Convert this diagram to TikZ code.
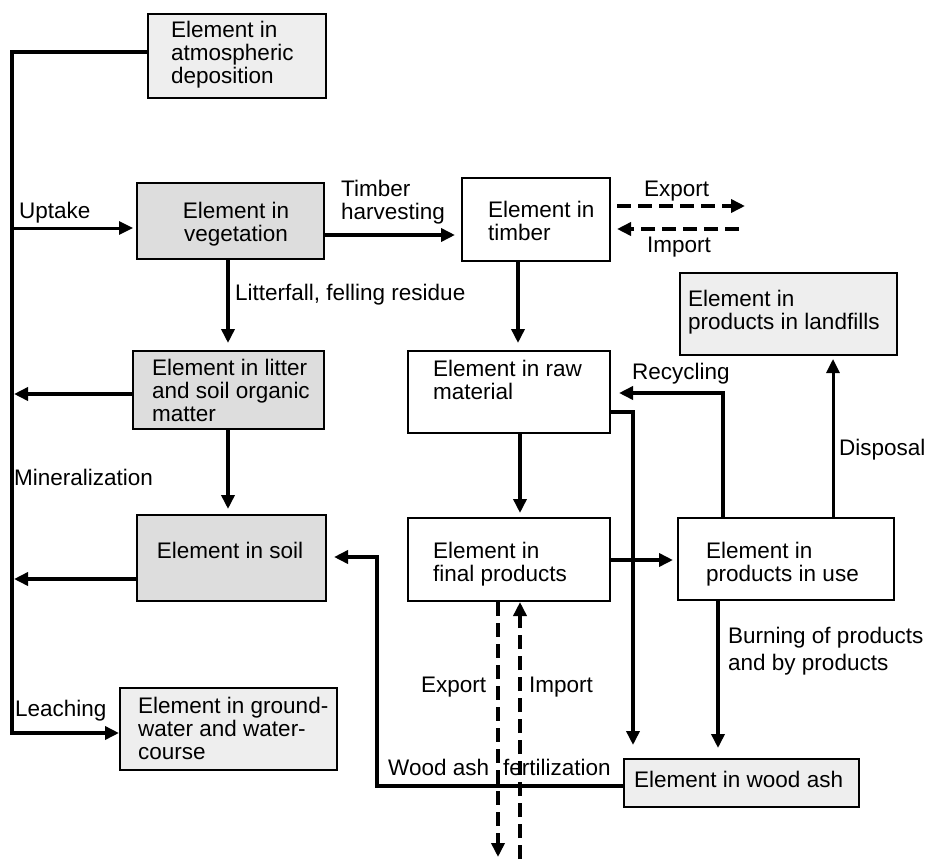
\documentclass[tikz,border=0pt]{standalone}
\usepackage{fontspec}
\setmainfont{Liberation Sans}
\usetikzlibrary{arrows.meta}
\definecolor{boxlight}{HTML}{EEEEEE}
\definecolor{boxdark}{HTML}{DDDDDD}

\begin{document}
\begin{tikzpicture}[x=1pt,y=-1pt,
  font=\fontsize{22.5}{22.8}\selectfont,
  box/.style={draw, line width=2pt, inner sep=0pt, anchor=north west},
  lightbox/.style={box, fill=boxlight},
  darkbox/.style={box, fill=boxdark},
  plainbox/.style={box, fill=white},
  txt/.style={inner sep=0pt, anchor=north west, align=left},
  ctxt/.style={inner sep=0pt, anchor=north, align=center},
  tip/.style={-{Triangle[length=14pt,width=13pt]}},
  flow/.style={line width=4pt, line join=miter, tip},
  flowthin/.style={line width=3pt, tip},
  dflow/.style={line width=4pt, dash pattern=on 14pt off 7pt, tip},
]
\fill[white] (0,0) rectangle (928,859);
\useasboundingbox (0,0) rectangle (928,859);

% ---- compartments ----
\node[lightbox, minimum width=178pt, minimum height=84pt] (atm)  at (147,13)  {};
\node[darkbox,  minimum width=187pt, minimum height=76pt] (veg)  at (136,182) {};
\node[darkbox,  minimum width=191pt, minimum height=78pt] (lit)  at (132,350) {};
\node[darkbox,  minimum width=189pt, minimum height=86pt] (soil) at (136,514) {};
\node[lightbox, minimum width=217pt, minimum height=82pt] (gw)   at (119,687) {};
\node[plainbox, minimum width=148pt, minimum height=83pt] (tim)  at (461,177) {};
\node[plainbox, minimum width=202pt, minimum height=82pt] (raw)  at (407,350) {};
\node[plainbox, minimum width=202pt, minimum height=83pt] (fin)  at (407,517) {};
\node[plainbox, minimum width=216pt, minimum height=82pt] (use)  at (677,517) {};
\node[lightbox, minimum width=217pt, minimum height=82pt] (land) at (679,272) {};
\node[lightbox, minimum width=235pt, minimum height=48pt] (ash)  at (623,758) {};

% ---- compartment texts ----
\node[txt]  (atm-t)  at (171,21)  {Element in\\atmospheric\\deposition};
\node[ctxt] (veg-t)  at (236,202) {Element in\\vegetation};
\node[txt]  (lit-t)  at (152,359) {Element in litter\\and soil organic\\matter};
\node[ctxt] (soil-t) at (230,542) {Element in soil};
\node[txt]  (gw-t)   at (138,697) {Element in ground-\\water and water-\\course};
\node[txt]  (tim-t)  at (488,201) {Element in\\timber};
\node[txt]  (raw-t)  at (433,360) {Element in raw\\material};
\node[txt]  (fin-t)  at (433,542) {Element in\\final products};
\node[txt]  (use-t)  at (706,542) {Element in\\products in use};
\node[txt]  (land-t) at (688,290) {Element in\\products in landfills};
\node[txt]  (ash-t)  at (634,771) {Element in wood ash};

% ---- junction points and free ends ----
\coordinate (tt) at (12,52);
\coordinate (tb) at (12,733);
\coordinate (up) at (12,228);
\coordinate (lt) at (14,394);
\coordinate (st) at (14,579);
\coordinate (lx) at (228,0);
\coordinate (hy) at (0,235);
\coordinate (tx) at (518,0);
\coordinate (rx) at (520,0);
\coordinate (fy) at (0,560);
\coordinate (rec) at (723,393);
\coordinate (rash) at (633,412);
\coordinate (disp) at (833,0);
\coordinate (burn) at (718,0);
\coordinate (ex) at (0,206);
\coordinate (exend) at (745,206);
\coordinate (im) at (0,229);
\coordinate (imstart) at (739,229);
\coordinate (exd) at (498,857);
\coordinate (imd) at (520,859);
\coordinate (wa) at (377,786);
\coordinate (sy) at (0,557);

% ---- flows ----
\draw[flow] (atm.west |- tt) -- (tt) -- (tb) -- (tb -| gw.west);
\draw[flowthin, shorten >=3pt] (up) -- (veg.west |- up);
\draw[flow] (lit.west |- lt) -- (lt);
\draw[flow] (soil.west |- st) -- (st);
\draw[flow, shorten >=7pt] (veg.south -| lx) -- (lit.north -| lx);
\draw[flow, shorten >=5pt] (lit.south -| lx) -- (soil.north -| lx);
\draw[flow, shorten >=6pt] (veg.east |- hy) -- (tim.west |- hy);
\draw[flow, shorten >=7pt] (tim.south -| tx) -- (raw.north -| tx);
\draw[flow, shorten >=4pt] (raw.south -| rx) -- (fin.north -| rx);
\draw[flow, shorten >=4pt] (fin.east |- fy) -- (use.west |- fy);
\draw[flow, shorten >=8pt] (use.north -| rec) -- (rec) -- (raw.east |- rec);
\draw[flow, shorten >=13pt] (raw.east |- rash) -- (rash) -- (ash.north -| rash);
\draw[flowthin, shorten >=3pt] (use.north -| disp) -- (land.south -| disp);
\draw[flow, shorten >=10pt] (use.south -| burn) -- (ash.north -| burn);
\draw[flow, shorten >=7pt] (ash.west |- wa) -- (wa) -- (wa |- sy) -- (soil.east |- sy);
\draw[dflow] ([xshift=6pt]tim.east |- ex) -- (exend);
\draw[dflow, shorten >=6pt] (imstart) -- (tim.east |- im);
\draw[dflow] (fin.south -| exd) -- (exd);
\draw[dflow] (imd) -- (fin.south -| imd);

% ---- flow labels ----
\node[txt] (l-uptake)  at (19,202)  {Uptake};
\node[txt] (l-harvest) at (341,180) {Timber\\harvesting};
\node[txt] (l-litter)  at (235,284) {Litterfall, felling residue};
\node[txt] (l-exp1)    at (644,181) {Export};
\node[txt] (l-imp1)    at (647,237) {Import};
\node[txt] (l-recyc)   at (632,363) {Recycling};
\node[txt] (l-disp)    at (839,439) {Disposal};
\node[txt] (l-miner)   at (14,469)  {Mineralization};
\node[txt] (l-leach)   at (15,700)  {Leaching};
\node[txt, font=\fontsize{22.5}{27}\selectfont] (l-burn) at (728,627) {Burning of products\\and by products};
\node[txt] (l-exp2)    at (421,677) {Export};
\node[txt] (l-imp2)    at (529,677) {Import};
\node[txt] (l-ashfert) at (388,759) {Wood ash\hspace{14pt}fertilization};
\end{tikzpicture}
\end{document}
